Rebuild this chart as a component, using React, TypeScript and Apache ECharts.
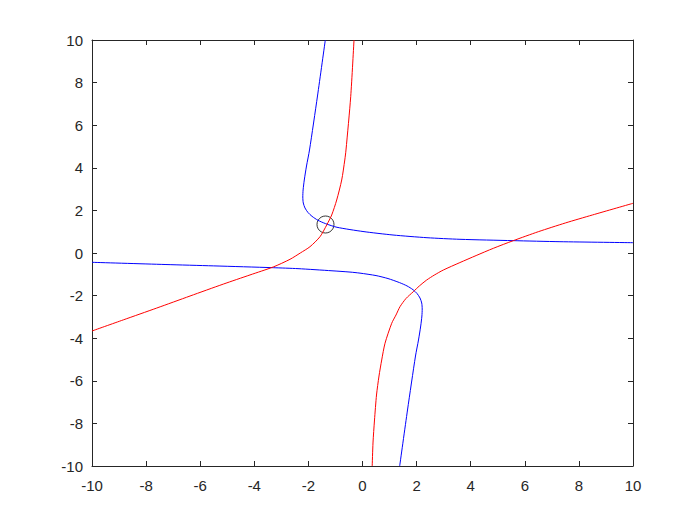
import React, { useEffect, useRef } from "react";
import * as echarts from "echarts";

const xTicks = [-10, 10, 2];
const yTicks = [-10, 10, 2];

const blueUpper: [number, number][] = [
  [-1.375, 10], [-1.664, 7.371], [-1.959, 4.836], [-2.07, 4.085], [-2.152, 3.427],
  [-2.196, 2.958], [-2.207, 2.629], [-2.189, 2.347], [-2.126, 2.113], [-2.015, 1.901],
  [-1.867, 1.723], [-1.645, 1.535], [-1.368, 1.38], [-0.943, 1.207], [0.018, 1.009],
  [1.128, 0.845], [2.384, 0.718], [3.604, 0.643], [5.564, 0.58], [7.3, 0.531], [10, 0.484],
];

const blueLower: [number, number][] = [
  [-10, -0.437], [-7.3, -0.54], [-5.5, -0.605], [-3.3, -0.69], [-2.384, -0.735],
  [-1.128, -0.835], [-0.462, -0.895], [-0.092, -0.945], [0.5, -1.06], [0.943, -1.2],
  [1.368, -1.39], [1.645, -1.545], [1.867, -1.723], [2.015, -1.901], [2.126, -2.113],
  [2.189, -2.347], [2.207, -2.629], [2.196, -2.958], [2.152, -3.427], [2.07, -4.085],
  [1.959, -4.836], [1.664, -7.371], [1.375, -10],
];

const redUpper: [number, number][] = [
  [-0.314, 10], [-0.436, 7.338], [-0.61, 4.836], [-0.655, 4.366], [-0.769, 3.427],
  [-0.954, 2.488], [-1.139, 1.784], [-1.323, 1.315], [-1.571, 0.765], [-1.941, 0.296],
  [-2.3, 0.0], [-2.68, -0.296], [-3.298, -0.655], [-4.159, -1.03], [-5.146, -1.46],
  [-6.377, -2.02], [-7.608, -2.585], [-8.843, -3.14], [-10, -3.662],
];

const redLower: [number, number][] = [
  [0.359, -10], [0.388, -8.92], [0.444, -7.84], [0.518, -6.667], [0.61, -5.775],
  [0.71, -5.023], [0.832, -4.239], [1.08, -3.3], [1.238, -2.911], [1.386, -2.521],
  [1.608, -2.136], [1.878, -1.817], [2.1, -1.55], [2.373, -1.268], [2.65, -1.04],
  [2.987, -0.8], [3.6, -0.45], [4.2, -0.12], [4.836, 0.22], [5.575, 0.58], [6.5, 1.0],
  [7.5, 1.41], [8.5, 1.785], [10, 2.333],
];

const solution: [number, number][] = [[-1.368, 1.338]];

const AXIS_COLOR = "#262626";
const FONT = "'Liberation Sans', Arial, Helvetica, sans-serif";

export default function App() {
  const ref = useRef<HTMLDivElement>(null);
  useEffect(() => {
    if (!ref.current) return;
    const chart = echarts.init(ref.current, undefined, { renderer: "svg" });
    const mkX = (pos: "bottom" | "top", labels: boolean) => ({
      type: "value",
      position: pos,
      min: xTicks[0],
      max: xTicks[1],
      interval: xTicks[2],
      axisLine: { show: true, onZero: false, lineStyle: { color: AXIS_COLOR, width: 1 } },
      axisTick: { show: true, inside: true, length: 5, lineStyle: { color: AXIS_COLOR } },
      axisLabel: { show: labels, color: AXIS_COLOR, fontSize: 15, fontFamily: FONT, margin: 12 },
      splitLine: { show: false },
    });
    const mkY = (pos: "left" | "right", labels: boolean) => ({
      type: "value",
      position: pos,
      min: yTicks[0],
      max: yTicks[1],
      interval: yTicks[2],
      axisLine: { show: true, onZero: false, lineStyle: { color: AXIS_COLOR, width: 1 } },
      axisTick: { show: true, inside: true, length: 5, lineStyle: { color: AXIS_COLOR } },
      axisLabel: { show: labels, color: AXIS_COLOR, fontSize: 15, fontFamily: FONT, margin: 9 },
      splitLine: { show: false },
    });
    const line = (data: [number, number][], color: string) => ({
      type: "line",
      data,
      xAxisIndex: 0,
      yAxisIndex: 0,
      showSymbol: false,
      symbol: "none",
      smooth: 0.25,
      clip: true,
      lineStyle: { color, width: 1 },
      itemStyle: { color },
    });
    chart.setOption({
      animation: false,
      backgroundColor: "#ffffff",
      grid: { left: 92, right: 67, top: 40, bottom: 59, containLabel: false },
      xAxis: [mkX("bottom", true), mkX("top", false)],
      yAxis: [mkY("left", true), mkY("right", false)],
      series: [
        line(blueUpper, "#0000ff"),
        line(blueLower, "#0000ff"),
        line(redUpper, "#ff0000"),
        line(redLower, "#ff0000"),
        {
          type: "scatter",
          data: solution,
          symbol: "circle",
          symbolSize: 17,
          itemStyle: { color: "rgba(0,0,0,0)", borderColor: "#000000", borderWidth: 1 },
        },
      ],
    });
    return () => chart.dispose();
  }, []);
  return (
    <div
      ref={ref}
      style={{ position: "fixed", left: 0, top: 0, width: 700, height: 525, background: "#fff" }}
    />
  );
}
